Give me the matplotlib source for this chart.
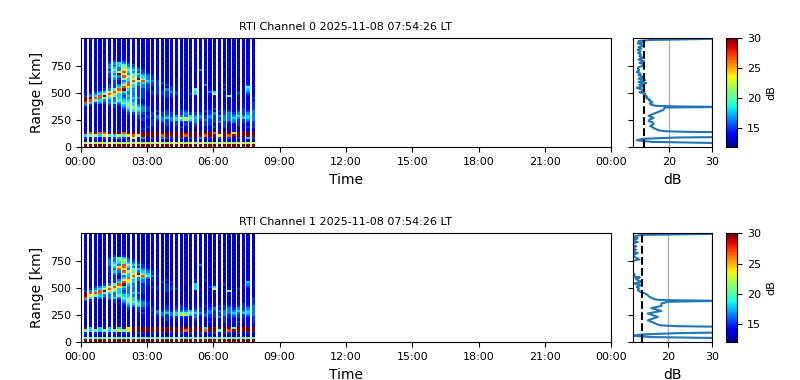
# RTI plot for two channels with mean profile panels
import numpy as np
import matplotlib
matplotlib.use('Agg')
import matplotlib.pyplot as plt

# start of each burst [h] and burst length
burst_start = [0.16,0.376,0.59,0.81,1.02,1.24,1.46,1.67,1.89,2.10,2.32,2.54,2.75,2.97,3.18,3.40,3.62,3.83,
               4.05,4.26,4.48,4.70,4.91,5.13,5.34,5.56,5.78,5.99,6.21,6.42,6.64,6.86,7.07,7.29,7.50,7.73]
burst_len = 0.15

# gate edges [km], bottom to top
range_edges = [0,28,50,72,95,118,140] + list(range(160,1001,20))

# colour levels [dB] for the digits in the grids
levels = [12.7,13.9,15.0,16.4,18.0,20.0,22.0,24.0,27.0,31.0]

# one row per gate from the top down, one digit per burst
rti_ch0 = [
"010110 101101 101001 011010 110101 011010",
"101011 011010 110110 100101 101011 010101",
"011101 001011 010101 101011 010110 101011",
"100110 110101 101010 010110 101101 010110",
"011010 101101 010110 110101 010110 110101",
"101101 010010 110101 001010 110101 011010",
"010101 101101 001010 110101 011010 100101",
"101010 011010 110101 011010 100101 101011",
"011011 010101 011010 100101 011010 110100",
"100101 101110 101001 011010 110101 001011",
"010111 212101 010110 101011 010101 101010",
"101012 343210 101101 010101 001010 110101",
"010113 345321 011010 101011 010110 101011",
"011013 436432 101010 101101 010010 101011",
"101012 537543 201101 010101 310101 011010",
"010113 468432 211010 101101 010100 101010",
"101012 397354 321010 101010 101010 101010",
"011012 438653 432110 101010 110100 101011",
"101011 326479 532111 010110 101011 010101",
"010111 213486 843211 101010 101010 101010",
"011011 214853 432221 010010 110101 010110",
"101012 237843 322212 101011 030102 101021",
"010112 248742 321211 210101 101100 101051",
"101123 589432 221213 211015 001012 010141",
"112347 874332 212222 321114 013410 102130",
"123468 743332 212222 221124 101601 012121",
"234897 542432 211112 211011 010101 501011",
"998854 343343 211011 101010 110101 010102",
"985433 354432 111011 010101 010110 101011",
"842323 435542 111101 010101 101011 010112",
"321112 224643 211110 111011 010110 110102",
"101011 213564 321111 101011 111011 101112",
"101010 112455 321111 111111 111211 111212",
"110101 111344 321212 112211 122122 212223",
"101010 101223 212122 212322 212312 323233",
"010101 010112 122323 233343 323233 334343",
"101010 101112 221334 346654 323223 343443",
"010101 010111 212232 344643 232223 332233",
"101010 101011 112122 222223 122232 232222",
"010101 010101 112112 121212 122112 112112",
"101010 101011 121111 112111 111212 111122",
"010101 010110 211011 111010 111010 111011",
"101011 010111 101010 111010 101011 010111",
"989889 998999 999999 999999 999899 979999",
"456475 465787 999989 999899 989979 899999",
"212121 232161 312132 212121 312121 212142",
"101110 111211 101110 101011 101011 101110",
"666666 666666 666666 666666 666666 666666",
"999999 999999 999999 999999 999999 999999",
]

rti_ch1 = [
"101001 011010 010110 101001 011010 101001",
"010110 100101 101001 010110 100101 010110",
"100101 010010 010101 101001 010110 100101",
"011010 101101 101010 010110 101001 011010",
"101001 010010 010101 101010 010101 001010",
"010110 101001 100110 010101 101010 110101",
"101010 010110 010101 101010 010101 010010",
"010101 101001 101010 010101 101001 101001",
"100110 010110 010101 101010 010110 010110",
"011001 101011 010110 010101 101001 100101",
"101011 212010 101001 010101 010110 010101",
"010112 354210 010110 101010 101001 101010",
"101013 356321 101001 010101 010110 010101",
"010113 445432 101010 101010 101001 101010",
"101013 538643 210101 010101 301010 010110",
"010112 478432 211010 101010 101001 010101",
"101012 387354 321101 010101 010110 101010",
"011012 438653 432101 010101 101001 010101",
"101011 326479 542110 101010 010110 101010",
"010112 213486 853211 010101 010101 010101",
"101011 214853 432111 101001 101010 101010",
"011012 237743 322112 010102 020101 010111",
"101011 248742 321121 210101 010010 101041",
"101123 589432 221112 110104 001012 010131",
"112347 874332 212212 211014 012410 101120",
"123468 743332 211212 221014 100601 012111",
"234897 542332 211112 101010 101010 501010",
"988854 343343 211011 010101 010101 010101",
"975433 354432 110101 101010 101010 101010",
"842323 435542 111010 010101 010101 010112",
"321012 214643 211101 101011 010101 101012",
"010101 213554 321110 110101 110101 101012",
"101010 112445 321111 111111 111111 111212",
"010101 011334 321112 112111 121122 212223",
"101010 101212 212112 122212 212312 323233",
"010101 010112 112323 233343 223233 334343",
"101010 101011 211334 345554 323223 343443",
"010101 010101 112232 346643 232223 232233",
"101010 101010 111122 222213 122232 222222",
"010101 010101 011112 111112 111112 111112",
"101010 101010 111111 111101 112112 112112",
"010101 010100 110101 101010 101010 101011",
"101010 010101 111010 101010 101010 101011",
"949494 949799 999999 999999 949999 959999",
"545454 565799 999999 999899 989959 899999",
"212121 212212 212121 212121 212212 212121",
"101010 101110 101010 101011 101010 101010",
"555555 555555 555555 555555 555555 555555",
"999999 999999 999999 999999 999999 999999",
]

# mean profile: range [km], power [dB]
prof_km_ch0 = [1000,995,985,975,965,955,945,930,920,905,895,880,865,850,835,820,805,790,775,765,750,735,720,705,690,675,
               660,645,630,615,600,590,575,560,545,530,515,505,490,478,465,450,440,430,420,410,400,390,380,375,370,365,
               343,325,305,288,270,255,242,228,212,196,175,156,148,142,137,120,95,90,78,64,50,36,20,0]
prof_db_ch0 = [35,30,16,13,14,12.8,13.6,14.2,13,13.6,12.8,13.5,12.9,13.6,13.2,14,13,14.3,13.2,14,14.3,13,12.8,13.2,12.6,13.5,
               13,14.3,13,14.5,13,14.8,13.2,14,12.6,13.8,14.4,13.2,14.6,14.3,15,14.8,15.6,15.4,16,16.2,15.6,16,17,22,33,19.1,
               18.7,17.6,16.3,15.3,16.5,15.6,15.3,16.2,16.5,15.7,16.6,17.6,19,24,35,38,35,22,14,12.6,16,35,38,38]

prof_km_ch1 = [1000,995,985,975,965,955,945,930,920,905,895,880,865,850,835,820,805,790,775,760,745,730,715,700,685,670,
               655,640,625,610,595,585,570,555,540,525,510,495,480,465,
               442,420,405,396,388,384,380,376,372,356,334,313,288,264,233,202,156,148,141,120,92,84,72,60,48,37,20,0]
prof_db_ch1 = [35,30,14,12.5,11.5,13,12.6,11.5,13,11.8,11.5,12.7,11.5,12.6,11.5,13,12.3,11.5,12.8,13.4,11.5,11.5,11.5,11.5,11.5,11.5,
               11.5,11.5,12.3,11.6,13.5,12.5,13,14,12.2,13.7,12.8,13.3,13,13.5,
               15,15.6,16.3,16.8,18,24,33,25,20,18.4,18.4,16.1,18.4,15.3,17.6,15.3,18,22,35,38,35,22,14,11.9,16,35,38,38]

noise_ch = [14.3, 13.9]
vmins = [11.8, 12.0]


def to_grid(rows):
    rows = [r.replace(' ','') for r in rows]
    vals = np.array([[levels[int(c)] for c in r] for r in rows[::-1]])
    # a blank column between bursts
    grid = np.full((vals.shape[0], 2*vals.shape[1]-1), np.nan)
    grid[:,::2] = vals
    return grid


def time_edges():
    edges = []
    for s in burst_start:
        edges += [s, s+burst_len]
    return np.array(edges)


def px_axes(fig, left, top, right, bottom):
    return fig.add_axes([left/800, 1-bottom/380, (right-left)/800, (bottom-top)/380])


def main():
    fig = plt.figure(figsize=(8,3.8), dpi=100)
    cmap = plt.get_cmap('jet').copy()
    cmap.set_bad('white')
    tx = time_edges()
    xpos = list(range(0,25,3))
    xlab = ['00:00','03:00','06:00','09:00','12:00','15:00','18:00','21:00','00:00']

    data = [(rti_ch0, prof_km_ch0, prof_db_ch0), (rti_ch1, prof_km_ch1, prof_db_ch1)]
    tops = [38.3, 233.3]
    for ch in range(2):
        rows, km, db = data[ch]
        top = tops[ch]
        bot = top+109
        ax = px_axes(fig, 80.5, top, 611.5, bot)
        pc = ax.pcolormesh(tx, range_edges, np.ma.masked_invalid(to_grid(rows)), cmap=cmap, vmin=vmins[ch], vmax=30)
        ax.set_xlim(0,24)
        ax.set_ylim(0,1000)
        ax.set_xticks(xpos)
        ax.set_xticklabels(xlab)
        ax.set_yticks([0,250,500,750])
        ax.tick_params(labelsize=8)
        ax.set_xlabel('Time', fontsize=10)
        ax.set_ylabel('Range [km]', fontsize=10)
        ax.set_title('RTI Channel %d 2025-11-08 07:54:26 LT' % ch, fontsize=8)

        ax2 = px_axes(fig, 633.3, top, 712.3, bot)
        ax2.plot(db, km)
        ax2.axvline(noise_ch[ch], color='k', ls='--', lw=1.5)
        ax2.set_xlim(vmins[ch],30)
        ax2.set_ylim(0,1000)
        ax2.set_xticks([20,30])
        ax2.set_yticks([0,250,500,750])
        ax2.set_yticklabels([])
        ax2.grid(axis='x', lw=1)
        ax2.tick_params(labelsize=8)
        ax2.set_xlabel('dB', fontsize=10)

        cax = px_axes(fig, 726, top, 737, bot)
        cb = fig.colorbar(pc, cax=cax)
        cb.set_ticks([15,20,25,30])
        cb.ax.tick_params(labelsize=8)
        cb.set_label('dB', fontsize=8)

    fig.savefig('out.png', dpi=100)


if(__name__ == '__main__'):
    main()
